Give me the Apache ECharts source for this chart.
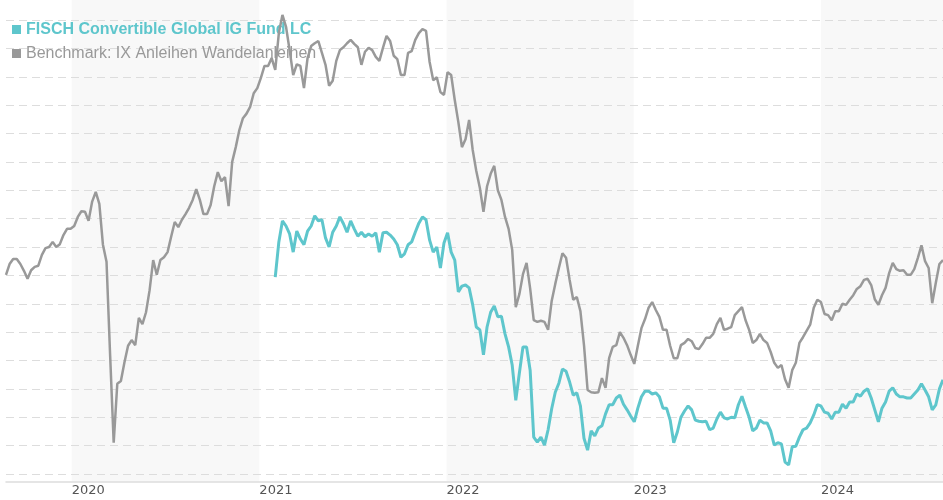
<!DOCTYPE html>
<html>
<head>
<meta charset="utf-8">
<script src="https://cdn.jsdelivr.net/npm/echarts@6/dist/echarts.min.js"></script>
<style>
html,body{margin:0;padding:0;background:#fff;}
#chart{width:943px;height:500px;}
</style>
</head>
<body>
<div id="chart"></div>
<script>
// ---- data (weekly observations, week 0 = 2019-08-26) ----
const startDate = [2019, 7, 26];
const endDate = '2024-08-26';
const fundName = 'FISCH Convertible Global IG Fund LC';
const benchName = 'Benchmark: IX Anleihen Wandelanleihen';
const yearTicks = ['2020-01-01', '2021-01-01', '2022-01-01', '2023-01-01', '2024-01-01'];
const shadedYears = [['2020-01-01', '2021-01-01'], ['2022-01-01', '2023-01-01'], ['2024-01-01', '2024-08-26']];
const fundFirstWeek = 75;

const benchValues = [
115.1,117.0,117.9,117.9,117.0,115.8,114.4,115.9,116.5,116.7,
118.6,119.8,120.0,120.9,120.0,120.5,122.1,123.2,123.2,123.7,
125.3,126.3,126.2,124.6,128.0,129.7,127.6,120.4,117.4,101.0,
85.5,95.9,96.4,99.7,102.6,103.6,102.7,107.5,106.4,108.5,
112.4,117.7,115.1,117.7,118.2,119.1,121.8,124.4,123.5,124.8,
125.8,126.9,128.3,130.2,128.3,125.8,125.8,127.4,130.7,133.2,
131.6,132.3,127.2,135.0,137.6,140.6,142.7,143.5,144.7,147.1,
148.0,149.8,151.9,151.9,153.3,151.2,157.7,160.9,158.8,154.7,
150.3,152.2,151.9,148.0,153.3,155.4,155.9,156.3,154.2,152.1,
148.4,149.3,152.8,154.7,155.2,155.9,156.5,155.8,155.2,152.1,
154.4,155.1,154.7,153.5,152.8,155.1,157.2,156.3,153.7,153.1,
150.3,150.3,154.2,154.5,156.5,157.7,158.4,158.1,152.6,149.4,
149.9,147.3,146.8,150.8,150.3,145.9,142.0,137.6,139.0,142.4,
137.1,133.4,130.4,126.2,130.7,132.9,134.3,130.0,128.3,125.3,
123.2,119.5,109.4,111.7,115.2,117.2,112.7,107.1,106.8,107.0,
106.8,105.4,110.5,113.5,116.3,118.9,118.1,114.2,110.7,111.2,
108.7,102.7,94.8,94.4,94.3,94.4,96.9,95.2,100.4,102.4,
102.7,105.0,104.0,102.7,101.0,99.4,102.6,105.7,107.3,109.3,
110.3,108.9,107.7,105.4,105.4,102.6,100.4,100.4,102.7,103.1,
103.8,103.4,102.2,102.0,102.9,104.0,104.0,104.7,106.4,107.5,
105.4,105.6,105.9,108.0,108.7,109.4,107.1,105.4,103.1,103.6,
104.7,103.6,103.1,101.5,99.6,98.7,99.2,96.7,95.2,98.3,
99.6,103.1,104.1,105.2,106.3,109.3,110.7,110.3,108.2,108.0,
107.1,108.7,108.7,110.0,109.8,110.7,111.5,112.6,113.1,114.2,
114.4,113.3,110.8,109.8,111.5,112.8,115.4,117.2,116.1,115.8,
115.9,115.1,115.1,116.1,118.1,120.3,117.5,116.3,110.1,113.7,
117.0,117.7
];

const fundValues = [
114.7,120.9,124.6,123.7,122.3,119.1,122.8,121.4,120.4,122.8,
123.7,125.5,124.6,124.8,121.6,120.0,122.6,123.7,125.3,124.1,
122.6,124.6,123.2,121.9,122.6,121.8,122.3,121.9,122.5,119.1,
122.5,122.6,122.1,121.4,120.4,118.2,118.8,120.4,120.9,122.6,
124.2,125.3,124.8,121.2,119.1,120.0,116.3,120.7,122.5,119.1,
117.7,112.1,113.1,113.3,112.8,109.8,105.9,105.4,101.0,105.9,
108.5,109.6,107.7,107.8,104.7,102.4,99.2,93.0,97.8,102.4,
102.4,98.3,86.5,85.6,86.5,85.1,87.8,91.5,94.4,96.0,
98.5,98.1,96.2,93.9,94.3,92.0,86.3,84.2,87.6,86.7,
88.1,88.5,90.6,92.2,92.2,93.4,93.9,92.3,91.3,90.2,
89.2,91.6,93.6,94.6,94.6,94.1,94.3,93.6,91.6,91.6,
89.5,85.5,87.4,90.0,91.1,92.0,91.3,89.5,89.3,89.2,
89.3,87.8,88.1,89.7,90.9,89.9,89.7,90.0,89.9,92.2,
93.7,91.8,90.0,87.6,88.1,89.5,89.0,89.0,87.6,85.1,
85.5,85.3,82.1,81.6,84.8,84.9,86.5,87.8,88.1,89.0,
90.4,92.2,92.0,90.9,90.7,89.7,90.9,90.9,92.3,91.6,
92.7,92.7,94.1,93.7,94.6,95.0,93.4,91.3,89.2,91.6,
92.7,94.6,95.2,94.1,93.6,93.6,93.4,93.4,94.1,94.8,
95.9,94.8,93.6,91.3,92.2,95.0,96.6
];

// ---- build series tables ----
function weekTime(k) {
  return new Date(startDate[0], startDate[1], startDate[2] + 7 * k).getTime();
}
function dayTime(s) { return new Date(s + 'T00:00:00').getTime(); }
const benchData = benchValues.map((v, k) => [weekTime(k), v]);
const fundData = fundValues.map((v, i) => [weekTime(fundFirstWeek + i), v]);
const minTime = weekTime(0);
const maxTime = dayTime(endDate);
const yearTickTimes = yearTicks.map(dayTime);

const TEAL = '#5ec6cc';
const GRAY = '#999999';

const chart = echarts.init(document.getElementById('chart'), null, {renderer: 'canvas'});
chart.setOption({
  animation: false,
  backgroundColor: '#ffffff',
  grid: [
    {left: 6, right: 0, top: 20, bottom: 26},
    {left: 6, right: 0, top: 0, bottom: 18}
  ],
  legend: {
    orient: 'vertical',
    left: 7,
    top: 16,
    z: 2,
    icon: 'rect',
    itemWidth: 9,
    itemHeight: 9,
    itemGap: 7,
    selectedMode: false,
    textStyle: {fontFamily: 'Liberation Sans', fontSize: 16, lineHeight: 17},
    data: [
      {name: fundName, textStyle: {color: TEAL, fontWeight: 'bold'}},
      {name: benchName, textStyle: {color: GRAY, fontWeight: 'normal'}}
    ]
  },
  xAxis: [
    {
      type: 'value', gridIndex: 0, min: minTime, max: maxTime,
      offset: 8,
      axisLine: {show: true, onZero: false, lineStyle: {color: '#dddddd', width: 1.5}},
      axisTick: {show: false},
      splitLine: {show: false},
      axisLabel: {
        customValues: yearTickTimes,
        align: 'left',
        margin: 2,
        color: '#555555',
        fontFamily: 'DejaVu Sans',
        fontSize: 13,
        formatter: v => String(new Date(v).getFullYear())
      }
    },
    {type: 'value', gridIndex: 1, min: minTime, max: maxTime, show: false}
  ],
  yAxis: [
    {
      type: 'value', gridIndex: 0, min: 80, max: 160, interval: 5, z: 1,
      axisLine: {show: false}, axisTick: {show: false}, axisLabel: {show: false},
      splitLine: {show: true, showMinLine: true, showMaxLine: true,
        lineStyle: {color: '#dddddd', type: [8, 5], width: 1}}
    },
    {type: 'value', gridIndex: 1, min: 0, max: 1, show: false}
  ],
  series: [
    {
      name: 'bands', type: 'line', xAxisIndex: 1, yAxisIndex: 1, z: -2,
      data: [[minTime, 0.5]], showSymbol: false, silent: true,
      lineStyle: {opacity: 0},
      markArea: {
        silent: true,
        z: -2,
        itemStyle: {color: '#f8f8f8'},
        data: shadedYears.map(p => [{xAxis: dayTime(p[0])}, {xAxis: dayTime(p[1])}])
      }
    },
    {
      name: benchName, type: 'line', xAxisIndex: 0, yAxisIndex: 0,
      data: benchData, showSymbol: false, clip: false,
      color: GRAY, lineStyle: {color: GRAY, width: 2.5}, z: 5
    },
    {
      name: fundName, type: 'line', xAxisIndex: 0, yAxisIndex: 0,
      data: fundData, showSymbol: false, clip: false,
      color: TEAL, lineStyle: {color: TEAL, width: 3}, z: 4
    }
  ]
});
</script>
</body>
</html>
